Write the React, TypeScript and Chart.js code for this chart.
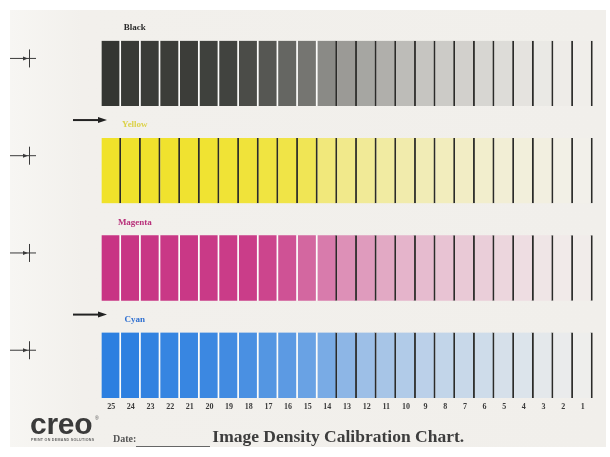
import { useEffect, useRef } from 'react'
import { Chart, ChartConfiguration, Plugin, registerables } from 'chart.js'

Chart.register(...registerables)

// step numbers, printed left to right under the patches
const steps = ['25', '24', '23', '22', '21', '20', '19', '18', '17', '16', '15', '14', '13',
  '12', '11', '10', '9', '8', '7', '6', '5', '4', '3', '2', '1']

const inks = ['Black', 'Yellow', 'Magenta', 'Cyan']

// tint (%) of every patch, step 25 -> step 1
const blackTints = [100, 98, 97, 96, 96, 94, 93, 88, 82, 74, 66, 55, 46, 40, 35, 28, 23, 20, 17, 14, 11, 7, 4, 2, 1]
const yellowTints = [100, 99, 99, 98, 97, 96, 94, 92, 88, 85, 78, 58, 50, 44, 38, 33, 28, 24, 20, 16, 12, 9, 6, 3, 1]
const magentaTints = [100, 99, 99, 98, 98, 97, 96, 95, 91, 84, 73, 62, 51, 45, 38, 32, 28, 24, 21, 18, 14, 10, 6, 3, 2]
const cyanTints = [100, 99, 97, 95, 94, 92, 89, 85, 80, 76, 69, 61, 51, 43, 38, 33, 28, 24, 21, 18, 14, 11, 7, 4, 2]

// first step (counting down) that carries a black register line on its right edge
const lineFromStep = [14, 25, 14, 14]
// bands that have the feed arrow in the margin
const arrowInks = ['Yellow', 'Cyan']

const tintTable = [blackTints, yellowTints, magentaTints, cyanTints]
const inkColors = ['#343632', '#f0e22a', '#c83484', '#2c7fe0']
const labelColors = ['#2a2a2a', '#dcd24a', '#b8307a', '#2f6fd0']
const paper = '#f2f0ec'
const serif = '"Liberation Serif", "DejaVu Serif", serif'
const patchHalf = 0.336

const hex = (c: string) => [1, 3, 5].map(k => parseInt(c.slice(k, k + 2), 16))
const mix = (ink: string, t: number) => {
  const a = hex(paper)
  const b = hex(ink)
  const v = a.map((p, k) => Math.round(p + (b[k] - p) * t / 100))
  return `rgb(${v[0]}, ${v[1]}, ${v[2]})`
}

const sheetMarks: Plugin<'bar'> = {
  id: 'sheetMarks',
  afterDatasetsDraw(chart) {
    const { ctx } = chart
    const x = chart.scales.x
    const y = chart.scales.y
    ctx.save()
    inks.forEach((ink, i) => {
      // band name above the patches
      const top = y.getPixelForValue(i - patchHalf)
      ctx.fillStyle = labelColors[i]
      ctx.font = `bold 9px ${serif}`
      ctx.textAlign = 'center'
      ctx.textBaseline = 'middle'
      ctx.fillText(ink, x.getPixelForValue(1) + 4, top - 13)

      // register cross in the left margin
      const yc = y.getPixelForValue(i) - 15
      ctx.strokeStyle = '#3a3a3a'
      ctx.lineWidth = 1
      ctx.beginPath()
      ctx.moveTo(10, yc)
      ctx.lineTo(36, yc)
      ctx.moveTo(29.5, yc - 9)
      ctx.lineTo(29.5, yc + 9)
      ctx.stroke()
      ctx.fillStyle = '#3a3a3a'
      ctx.beginPath()
      ctx.moveTo(28, yc)
      ctx.lineTo(23, yc - 2)
      ctx.lineTo(23, yc + 2)
      ctx.closePath()
      ctx.fill()

      // feed arrow
      if (arrowInks.includes(ink)) {
        const ya = y.getPixelForValue(i - 0.5) - 2
        ctx.strokeStyle = '#222'
        ctx.lineWidth = 2
        ctx.beginPath()
        ctx.moveTo(73, ya)
        ctx.lineTo(100, ya)
        ctx.stroke()
        ctx.fillStyle = '#222'
        ctx.beginPath()
        ctx.moveTo(107, ya)
        ctx.lineTo(98, ya - 3)
        ctx.lineTo(98, ya + 3)
        ctx.closePath()
        ctx.fill()
      }
    })
    ctx.restore()
  }
}

const CalibrationChart = () => {
  const canvasRef = useRef<HTMLCanvasElement>(null)
  const chartInstance = useRef<Chart | null>(null)

  useEffect(() => {
    if (!canvasRef.current) return
    const ctx = canvasRef.current.getContext('2d')
    if (!ctx) return
    if (chartInstance.current) chartInstance.current.destroy()

    const config: ChartConfiguration<'bar'> = {
      type: 'bar',
      data: {
        labels: steps,
        datasets: inks.map((ink, i) => ({
          label: ink,
          data: steps.map(() => [i - patchHalf, i + patchHalf] as [number, number]),
          backgroundColor: tintTable[i].map(t => mix(inkColors[i], t)),
          borderColor: steps.map(s => (Number(s) <= lineFromStep[i] ? '#2b2b29' : '#fcfcfa')),
          borderWidth: { top: 0, bottom: 0, left: 0, right: 2 },
          borderSkipped: false,
          grouped: false,
          barPercentage: 1,
          categoryPercentage: 1
        }))
      },
      options: {
        animation: false,
        responsive: true,
        maintainAspectRatio: false,
        layout: { padding: { left: 101.4, right: 17.4, top: 24.8, bottom: 41.5 } },
        plugins: {
          legend: { display: false },
          tooltip: { enabled: false }
        },
        scales: {
          x: {
            grid: { display: false, drawTicks: false },
            border: { display: false },
            ticks: {
              color: '#3a3a3a',
              padding: 4,
              autoSkip: false,
              maxRotation: 0,
              font: { family: serif, size: 8, weight: 'bold' }
            }
          },
          y: {
            display: false,
            reverse: true,
            min: -0.5,
            max: inks.length - 1 + patchHalf
          }
        }
      },
      plugins: [sheetMarks]
    }

    chartInstance.current = new Chart(ctx, config)
    return () => {
      if (chartInstance.current) {
        chartInstance.current.destroy()
        chartInstance.current = null
      }
    }
  }, [])

  return (
    <div style={{ position: 'absolute', left: 0, top: 0, width: 610, height: 457 }}>
      <canvas ref={canvasRef}></canvas>
    </div>
  )
}

const App = () => {
  return (
    <div style={{ position: 'fixed', left: 0, top: 0, width: 610, height: 457, background: '#ffffff', overflow: 'hidden' }}>
      <div style={{
        position: 'absolute', left: 10, top: 10, width: 596, height: 437,
        background: 'linear-gradient(90deg, #f7f6f3 0%, #f2f0ec 12%, #f1efeb 100%)'
      }} />
      <CalibrationChart />
      <div style={{
        position: 'absolute', left: 30, top: 409, lineHeight: '29px', fontSize: 30,
        fontFamily: '"Liberation Sans", Arial, sans-serif', fontWeight: 'bold', color: '#3a3a3a', letterSpacing: -0.3
      }}>creo</div>
      <div style={{ position: 'absolute', left: 95, top: 415, fontSize: 5, color: '#555', fontFamily: 'sans-serif' }}>®</div>
      <div style={{
        position: 'absolute', left: 31, top: 438, fontSize: 3.6, fontWeight: 'bold', letterSpacing: 0.3,
        color: '#666', fontFamily: '"Liberation Sans", sans-serif', whiteSpace: 'nowrap'
      }}>PRINT ON DEMAND SOLUTIONS</div>
      <div style={{
        position: 'absolute', left: 113, top: 426, display: 'flex', alignItems: 'baseline',
        fontFamily: '"Liberation Serif", serif', fontWeight: 'bold', whiteSpace: 'nowrap'
      }}>
        <span style={{ fontSize: 10, color: '#555' }}>Date:</span>
        <span style={{ display: 'inline-block', width: 74, borderBottom: '1px solid #666', marginRight: 2 }}>&nbsp;</span>
        <span style={{ fontSize: 17.5, color: '#3d3d3d' }}>Image Density Calibration Chart.</span>
      </div>
    </div>
  )
}

export default App
